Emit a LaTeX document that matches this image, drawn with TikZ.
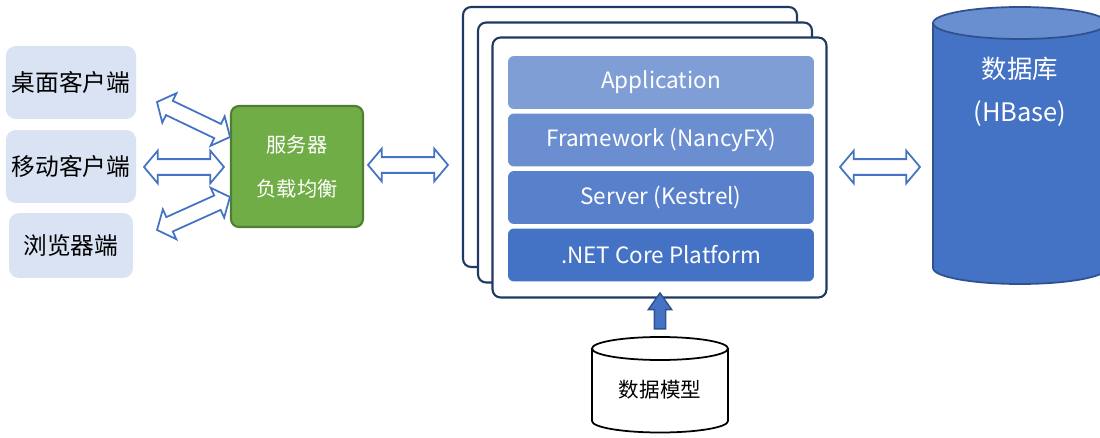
\documentclass[tikz,border=0pt]{standalone}
\usepackage{fontspec}
\setmainfont{Noto Sans CJK SC}
\usetikzlibrary{shapes.arrows}
\definecolor{clientfill}{HTML}{DAE3F3}
\definecolor{lbgreen}{HTML}{70AD47}
\definecolor{lbborder}{HTML}{507E32}
\definecolor{navy}{HTML}{203864}
\definecolor{msblue}{HTML}{4472C4}
\definecolor{msdark}{HTML}{2F528F}
\definecolor{dbtop}{HTML}{6A8FD0}
\definecolor{appblue}{HTML}{7F9ED6}
\definecolor{fwblue}{HTML}{6B8ED0}
\definecolor{srvblue}{HTML}{5981CB}
\begin{document}
\begin{tikzpicture}
	[x=0.02cm,y=0.02cm,
	client/.style={fill=clientfill,rounded corners=0.2cm,minimum width=2.48cm,minimum height=1.46cm,font=\fontsize{13.5}{16}\selectfont},
	balancer/.style={draw=lbborder,line width=1.2pt,fill=lbgreen,rounded corners=0.16cm,minimum width=2.64cm,minimum height=2.42cm,text=white,align=center,font=\fontsize{11.5}{25}\selectfont},
	frame/.style={draw=navy,line width=1.2pt,fill=white,rounded corners=0.16cm,minimum width=6.68cm,minimum height=5.2cm},
	layer/.style={rounded corners=0.12cm,minimum width=6.12cm,minimum height=1.06cm,text=white,font=\fontsize{12.8}{16}\selectfont},
	link/.style={double arrow,draw=msblue,fill=white,line width=1pt,inner xsep=0pt,inner ysep=0.14cm,minimum width=0pt,minimum height=1.6cm,double arrow head extend=0.17cm,double arrow tip angle=100}]
	\useasboundingbox (0,0) rectangle (1100,437);
	% clients
	\node[client] (desktop) at (71,354.5) {桌面客户端};
	\node[client] (mobile) at (71,270.5) {移动客户端};
	\node[client,minimum height=1.3cm] (browser) at (71,191.5) {浏览器端};
	% load balancer
	\node[balancer] (lb) at (297,270.5) {服务器\\负载均衡};
	\node[link,rotate=-25.6,minimum height=1.62cm] (l1) at (193.5,317.5) {};
	\node[link] (l2) at (184,270) {};
	\node[link,rotate=24.3] (l3) at (193.5,223.5) {};
	% server stack
	\node[frame] (back) at (630,300) {};
	\node[frame] (middle) at (645,284.5) {};
	\node[frame] (front) at (659.5,269.5) {};
	\node[layer,fill=appblue] (app) at (661,354.5) {Application};
	\node[layer,fill=fwblue] (fw) at (661,297) {Framework (NancyFX)};
	\node[layer,fill=srvblue] (srv) at (661,239.5) {Server (Kestrel)};
	\node[layer,fill=msblue] (core) at (661,182) {.NET Core Platform};
	\node[link] (l4) at (408,272) {};
	% database
	\filldraw[fill=msblue,draw=msdark,line width=1pt] (933,414) -- (933,169) arc[start angle=180,end angle=360,x radius=1.74cm,y radius=0.32cm] -- (1107,414);
	\filldraw[fill=dbtop,draw=msdark,line width=1pt] (1020,414) ellipse[x radius=1.74cm,y radius=0.32cm];
	\node[text=white,align=center,font=\fontsize{14.5}{24.5}\selectfont] (hbase) at (1020,345.5) {数据库\\(HBase)};
	\node[link] (l5) at (880,270) {};
	% data model
	\filldraw[fill=white,line width=1pt] (592,88.5) -- (592,16) arc[start angle=180,end angle=360,x radius=1.36cm,y radius=0.23cm] -- (728,88.5);
	\filldraw[fill=white,line width=1pt] (660,88.5) ellipse[x radius=1.36cm,y radius=0.23cm];
	\node[font=\fontsize{11.7}{14}\selectfont] (model) at (660,47) {数据模型};
	\node[single arrow,rotate=90,draw=msdark,fill=msblue,line width=0.8pt,inner xsep=0pt,inner ysep=0.1cm,minimum width=0pt,minimum height=0.72cm,single arrow head extend=0.12cm,single arrow tip angle=70] (up) at (660,122) {};
\end{tikzpicture}
\end{document}
